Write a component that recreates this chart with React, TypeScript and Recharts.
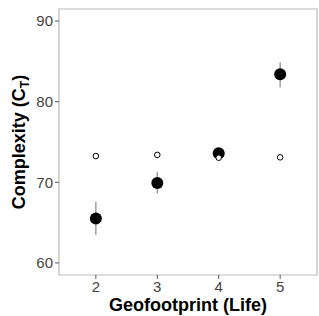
import React from 'react';
import { ScatterChart, Scatter, XAxis, YAxis, ErrorBar, ReferenceArea, Label } from 'recharts';

const geofootprint = [2, 3, 4, 5];
const observedMean = [65.5, 69.9, 73.6, 83.4];
const observedLow = [63.5, 68.6, 73.0, 81.8];
const observedHigh = [67.6, 71.3, 74.2, 84.9];
const nullMean = [73.25, 73.4, 73.05, 73.1];
const xTicks = [2, 3, 4, 5];
const yTicks = [60, 70, 80, 90];
const xDomain = [1.4, 5.6];
const yDomain = [58.5, 91.5];

const observed = geofootprint.map((g, i) => ({
  x: g,
  y: observedMean[i],
  err: [observedMean[i] - observedLow[i], observedHigh[i] - observedMean[i]],
}));
const nullModel = geofootprint.map((g, i) => ({ x: g, y: nullMean[i] }));

const FONT = '"Liberation Sans", Arial, sans-serif';

const FilledDot = (p: any) => <circle cx={p.cx} cy={p.cy} r={6} fill="#000" />;
const OpenDot = (p: any) => (
  <circle cx={p.cx} cy={p.cy} r={2.8} fill="#fff" stroke="#000" strokeWidth={1} />
);

const YTitle = (props: any) => {
  const vb = props.viewBox || {};
  const cx = vb.x + 25;
  const cy = vb.y + vb.height / 2;
  return (
    <text
      x={cx}
      y={cy}
      transform={`rotate(-90, ${cx}, ${cy})`}
      textAnchor="middle"
      fontFamily={FONT}
      fontSize={18}
      fontWeight="bold"
      fill="#000"
    >
      Complexity (C<tspan fontSize={12.5} dy={4}>T</tspan><tspan dy={-4}>)</tspan>
    </text>
  );
};

export default function App() {
  return (
    <div style={{ position: 'absolute', left: 0, top: 0, background: '#fff' }}>
      <ScatterChart width={319} height={316} margin={{ top: 9, right: 2, bottom: 0, left: 0 }}>
        <XAxis
          type="number"
          dataKey="x"
          domain={xDomain}
          ticks={xTicks}
          allowDataOverflow
          height={41}
          tickSize={4}
          axisLine={false}
          tickLine={{ stroke: '#555' }}
          tick={{ fontSize: 15, fill: '#444', fontFamily: FONT }}
        >
          <Label
            value="Geofootprint (Life)"
            position="insideBottom"
            offset={5}
            style={{ fontSize: 18, fontWeight: 'bold', fill: '#000', fontFamily: FONT }}
          />
        </XAxis>
        <YAxis
          type="number"
          dataKey="y"
          domain={yDomain}
          ticks={yTicks}
          allowDataOverflow
          width={59}
          tickSize={4}
          axisLine={false}
          tickLine={{ stroke: '#555' }}
          tick={{ fontSize: 15, fill: '#444', fontFamily: FONT }}
        >
          <Label content={YTitle} />
        </YAxis>
        <ReferenceArea
          x1={xDomain[0]}
          x2={xDomain[1]}
          y1={yDomain[0]}
          y2={yDomain[1]}
          fill="none"
          fillOpacity={0}
          stroke="#bbb"
          strokeWidth={1.2}
          ifOverflow="visible"
        />
        <Scatter data={observed} shape={FilledDot} isAnimationActive={false}>
          <ErrorBar dataKey="err" direction="y" width={0} stroke="#888" strokeWidth={1.2} isAnimationActive={false} />
        </Scatter>
        <Scatter data={nullModel} shape={OpenDot} isAnimationActive={false} />
      </ScatterChart>
    </div>
  );
}
